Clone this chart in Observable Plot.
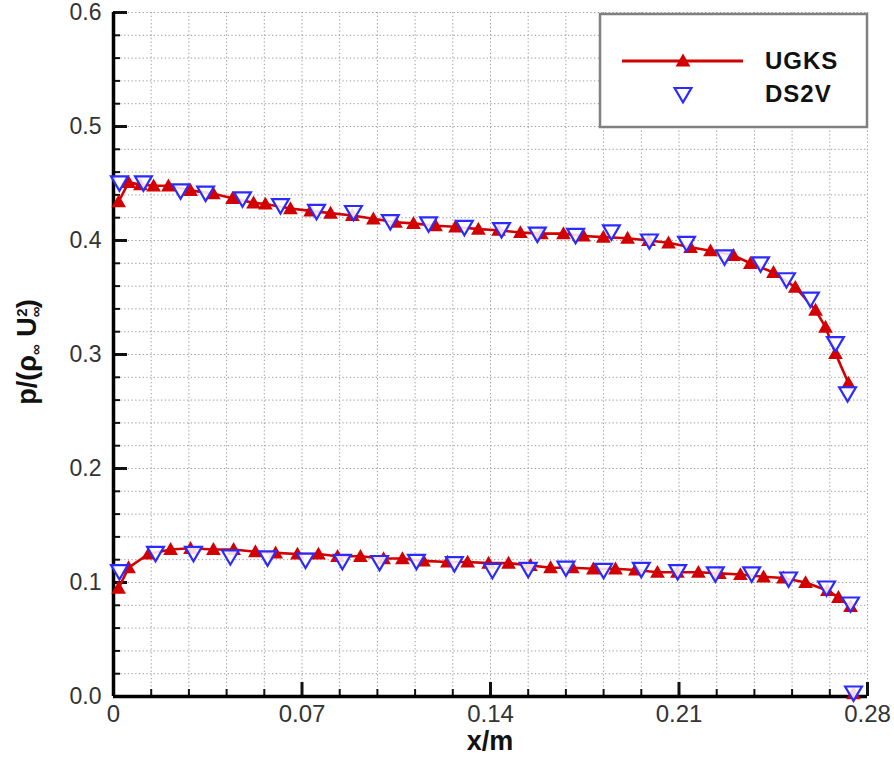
<!DOCTYPE html>
<html>
<head>
<meta charset="utf-8">
<script src="https://cdn.jsdelivr.net/npm/d3@7"></script>
<script src="https://cdn.jsdelivr.net/npm/@observablehq/plot@0.6"></script>
<style>
  html, body { margin: 0; padding: 0; background: #fff; }
  #chart { width: 894px; height: 758px; }
</style>
</head>
<body>
<div id="chart"></div>
<script>
// ---- data ----
// UGKS, upper surface
const ugksUpperX = [0.0019,0.0056,0.0100,0.0149,0.0204,0.0286,0.0371,0.0442,0.0520,0.0564,0.0657,0.0732,0.0806,0.0887,0.0965,0.1047,0.1114,0.1196,0.1270,0.1355,0.1430,0.1511,0.1589,0.1671,0.1745,0.1819,0.1909,0.1987,0.2061,0.2143,0.2217,0.2302,0.2365,0.2451,0.2532,0.2607,0.2644,0.2681,0.2729];
const ugksUpperY = [0.434,0.451,0.449,0.448,0.448,0.444,0.441,0.437,0.433,0.432,0.428,0.426,0.424,0.422,0.419,0.416,0.415,0.413,0.412,0.410,0.409,0.407,0.406,0.406,0.404,0.403,0.402,0.400,0.398,0.394,0.391,0.387,0.380,0.372,0.359,0.339,0.324,0.301,0.275];
// UGKS, lower surface
const ugksLowerX = [0.0019,0.0056,0.0130,0.0212,0.0286,0.0371,0.0446,0.0527,0.0602,0.0683,0.0761,0.0832,0.0917,0.1003,0.1073,0.1151,0.1240,0.1315,0.1393,0.1467,0.1548,0.1623,0.1704,0.1782,0.1864,0.1938,0.2020,0.2094,0.2172,0.2250,0.2328,0.2414,0.2488,0.2570,0.2651,0.2692,0.2737];
const ugksLowerY = [0.095,0.113,0.125,0.129,0.130,0.129,0.129,0.127,0.126,0.125,0.125,0.123,0.123,0.121,0.121,0.119,0.118,0.118,0.117,0.117,0.115,0.113,0.113,0.112,0.112,0.111,0.109,0.109,0.109,0.108,0.107,0.105,0.104,0.100,0.093,0.087,0.079];
// UGKS, trailing point
const ugksEndX = [0.2748];
const ugksEndY = [0.0026];

// DS2V, upper surface
const dsUpperX = [0.0022,0.0111,0.0249,0.0342,0.0479,0.0620,0.0754,0.0891,0.1028,0.1170,0.1303,0.1441,0.1574,0.1716,0.1849,0.1990,0.2128,0.2269,0.2403,0.2499,0.2588,0.2681,0.2726];
const dsUpperY = [0.451,0.451,0.444,0.442,0.437,0.431,0.426,0.425,0.417,0.415,0.412,0.410,0.406,0.405,0.408,0.400,0.398,0.386,0.380,0.366,0.349,0.310,0.266];
// DS2V, lower surface
const dsLowerX = [0.0022,0.0156,0.0297,0.0434,0.0572,0.0713,0.0850,0.0988,0.1125,0.1266,0.1407,0.1540,0.1680,0.1820,0.1960,0.2095,0.2235,0.2370,0.2507,0.2648,0.2737,0.2748];
const dsLowerY = [0.110,0.126,0.126,0.123,0.122,0.120,0.119,0.118,0.119,0.117,0.111,0.112,0.113,0.111,0.112,0.110,0.108,0.108,0.1035,0.0956,0.0816,0.0035];

// axis ticks
const xMajor = [0, 0.07, 0.14, 0.21, 0.28];
const xLabels = ["0", "0.07", "0.14", "0.21", "0.28"];
const yMajor = [0, 0.1, 0.2, 0.3, 0.4, 0.5, 0.6];
const yLabels = ["0.0", "0.1", "0.2", "0.3", "0.4", "0.5", "0.6"];
const xMinor = d3.range(0, 29).map(i => i * 0.014).filter(v => v <= 0.2801);
const yMinor = d3.range(0, 31).map(i => i * 0.02).filter(v => v <= 0.6001);

const seriesNames = ["UGKS", "DS2V"];

// ---- build tables ----
const ugks = [
  ...ugksUpperX.map((x, i) => ({x, y: ugksUpperY[i], seg: "upper"})),
  ...ugksLowerX.map((x, i) => ({x, y: ugksLowerY[i], seg: "lower"})),
  ...ugksEndX.map((x, i) => ({x, y: ugksEndY[i], seg: "end"}))
];
const ds2v = [
  ...dsUpperX.map((x, i) => ({x, y: dsUpperY[i]})),
  ...dsLowerX.map((x, i) => ({x, y: dsLowerY[i]}))
];

const RED = "#d20000";
const BLUE = "#2b2bff";

const upTri = {
  draw(ctx, size) {
    const r = Math.sqrt(size / Math.PI);
    ctx.moveTo(0, -r * 1.05);
    ctx.lineTo(r * 1.05, r * 0.8);
    ctx.lineTo(-r * 1.05, r * 0.8);
    ctx.closePath();
  }
};
const downTri = {
  draw(ctx, size) {
    const r = Math.sqrt(size / Math.PI);
    ctx.moveTo(-r * 1.05, -r * 0.75);
    ctx.lineTo(r * 1.05, -r * 0.75);
    ctx.lineTo(0, r * 1.05);
    ctx.closePath();
  }
};

const W = 894, H = 758, ML = 113, MR = 27, MT = 12, MB = 62;
const innerW = W - ML - MR, innerH = H - MT - MB;

const chart = Plot.plot({
  width: W, height: H,
  marginLeft: ML, marginRight: MR, marginTop: MT, marginBottom: MB,
  style: {fontFamily: "Liberation Sans, Arial, sans-serif", background: "#fff", overflow: "visible"},
  x: {domain: [0, 0.28]},
  y: {domain: [0, 0.6]},
  marks: [
    Plot.gridX(xMinor, {stroke: "#9a9a9a", strokeOpacity: 1, strokeWidth: 1, strokeDasharray: "1.3,2.4"}),
    Plot.gridY(yMinor, {stroke: "#9a9a9a", strokeOpacity: 1, strokeWidth: 1, strokeDasharray: "1.3,2.4"}),
    // inward ticks
    Plot.tickX(xMinor, {x: d => d, stroke: "#111", strokeWidth: 2, insetTop: innerH - 7}),
    Plot.tickX(xMajor, {x: d => d, stroke: "#111", strokeWidth: 3, insetTop: innerH - 14}),
    Plot.tickY(yMinor, {y: d => d, stroke: "#111", strokeWidth: 2, insetRight: innerW - 7}),
    Plot.tickY(yMajor, {y: d => d, stroke: "#111", strokeWidth: 3, insetRight: innerW - 14}),
    Plot.ruleX([0], {stroke: "#000", strokeWidth: 3.5}),
    Plot.ruleY([0], {stroke: "#000", strokeWidth: 3.5}),
    Plot.axisX(xMajor, {tickSize: 0, tickPadding: 8, fontSize: 24, fill: "#333", tickFormat: (d, i) => xLabels[i], label: null}),
    Plot.axisY(yMajor, {tickSize: 0, tickPadding: 12, fontSize: 23, fill: "#333", tickFormat: (d, i) => yLabels[i], label: null}),
    // UGKS
    Plot.line(ugks, {x: "x", y: "y", z: "seg", stroke: RED, strokeWidth: 2.6}),
    Plot.dot(ugks, {x: "x", y: "y", symbol: upTri, r: 7, fill: RED, stroke: "none"}),
    // DS2V
    Plot.dot(ds2v, {x: "x", y: "y", symbol: downTri, r: 8, fill: "#fff", fillOpacity: 0.85, stroke: BLUE, strokeWidth: 2.2})
  ]
});

document.getElementById("chart").appendChild(chart);

// ---- axis titles and legend ----
const svg = d3.select(chart);

svg.append("text")
  .attr("x", ML + innerW * 0.5)
  .attr("y", 750)
  .attr("text-anchor", "middle")
  .attr("font-family", "Liberation Sans, Arial, sans-serif")
  .attr("font-weight", "bold")
  .attr("font-size", 27)
  .attr("fill", "#111")
  .text("x/m");

const yl = svg.append("text")
  .attr("transform", "translate(36,352) rotate(-90)")
  .attr("text-anchor", "middle")
  .attr("font-family", "Liberation Sans, Arial, sans-serif")
  .attr("font-weight", "bold")
  .attr("font-size", 27)
  .attr("fill", "#111");
yl.append("tspan").text("p/(ρ");
yl.append("tspan").attr("font-size", 15).attr("baseline-shift", "-30%").text("∞");
yl.append("tspan").text(" U");
yl.append("tspan").attr("font-size", 15).attr("baseline-shift", "-30%").text("∞");
yl.append("tspan").attr("font-size", 15).attr("dx", -10).attr("baseline-shift", "60%").text("2");
yl.append("tspan").text(")");

const lg = svg.append("g");
lg.append("rect")
  .attr("x", 600).attr("y", 14).attr("width", 267).attr("height", 113)
  .attr("fill", "#fff").attr("stroke", "#808080").attr("stroke-width", 2.5);
lg.append("line")
  .attr("x1", 622).attr("x2", 743).attr("y1", 61).attr("y2", 61)
  .attr("stroke", RED).attr("stroke-width", 3);
lg.append("path")
  .attr("transform", "translate(683,61)")
  .attr("d", "M0,-7.4L7.4,5.6L-7.4,5.6Z").attr("fill", RED);
lg.append("path")
  .attr("transform", "translate(683,94)")
  .attr("d", "M-8.4,-6L8.4,-6L0,8.4Z").attr("fill", "#fff").attr("stroke", BLUE).attr("stroke-width", 2.2);
[[seriesNames[0], 69], [seriesNames[1], 102]].forEach(([t, y]) => {
  lg.append("text")
    .attr("x", 765).attr("y", y)
    .attr("text-anchor", "start")
    .attr("font-family", "Liberation Sans, Arial, sans-serif")
    .attr("font-weight", "bold")
    .attr("font-size", 24)
    .attr("letter-spacing", 1)
    .attr("fill", "#111")
    .text(t);
});
</script>
</body>
</html>
